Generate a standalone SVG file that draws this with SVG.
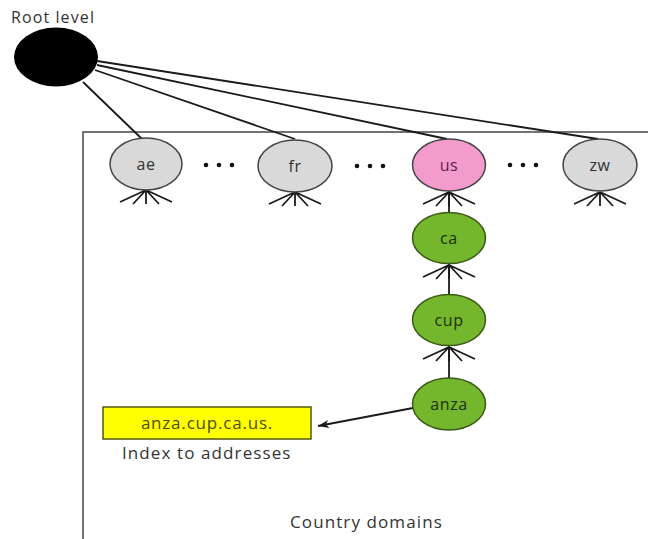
<svg xmlns="http://www.w3.org/2000/svg" width="649" height="539" viewBox="0 0 649 539">
  <style>
    text { font-family: "Open Sans", "Liberation Sans", sans-serif; }
    .lbl { font-size: 17px; fill: #333; letter-spacing: 1.1px; }
    .node-lbl { font-size: 16px; text-anchor: middle; letter-spacing: 0.6px; font-weight: 500; }
    .gray { fill: #d9d9d9; stroke: #444; stroke-width: 1.5; }
    .pink { fill: #f39bcd; stroke: #444; stroke-width: 1.5; }
    .green { fill: #74b62c; stroke: #3b5a14; stroke-width: 1.5; }
    .edge { stroke: #1a1a1a; stroke-width: 1.8; fill: none; }
    .foot { stroke: #1a1a1a; stroke-width: 1.8; fill: none; }
    .dots { fill: #111; }
  </style>
  <defs>
    <marker id="arr" markerWidth="12" markerHeight="10" refX="11" refY="5" orient="auto" markerUnits="userSpaceOnUse">
      <path d="M0,1 L11,5 L0,9 L3,5 Z" fill="#1a1a1a"/>
    </marker>
    <!-- crow's foot fan drawn below a node, apex at 0,0 -->
    <g id="fan">
      <path class="foot" d="M0,0 L-26,12 M0,0 L-13,14 M0,0 L0,14 M0,0 L13,14 M0,0 L26,12"/>
    </g>
  </defs>

  <!-- domain frame -->
  <path d="M83,539 L83,132 L648,132" fill="none" stroke="#444" stroke-width="1.5"/>

  <!-- connectors -->
  <g id="connectors">
    <line class="edge" x1="83" y1="82" x2="142" y2="139"/>
    <line class="edge" x1="95" y1="70" x2="295" y2="139"/>
    <line class="edge" x1="97" y1="65" x2="447" y2="139"/>
    <line class="edge" x1="97" y1="61" x2="598" y2="139"/>
    <line class="edge" x1="449" y1="191" x2="449" y2="212"/>
    <line class="edge" x1="449" y1="264" x2="449" y2="295"/>
    <line class="edge" x1="449" y1="346" x2="449" y2="378"/>
    <line class="edge" x1="413" y1="408" x2="318" y2="426" marker-end="url(#arr)"/>
    <use href="#fan" x="146" y="190"/>
    <use href="#fan" x="295" y="192"/>
    <use href="#fan" x="449" y="192"/>
    <use href="#fan" x="600" y="192"/>
    <use href="#fan" x="449" y="265"/>
    <use href="#fan" x="449" y="347"/>
  </g>

  <!-- root -->
  <g id="root">
    <text class="lbl" x="11" y="23" style="font-size:16px">Root level</text>
    <ellipse cx="56" cy="57" rx="42" ry="29.5" fill="#000"/>
  </g>

  <!-- top level domains -->
  <g id="node-ae">
    <ellipse class="gray" cx="146" cy="164" rx="36" ry="26"/>
    <text class="node-lbl" x="146" y="170" fill="#333">ae</text>
  </g>
  <g id="node-fr">
    <ellipse class="gray" cx="295" cy="166" rx="37" ry="26"/>
    <text class="node-lbl" x="295" y="172" fill="#333">fr</text>
  </g>
  <g id="node-us">
    <ellipse class="pink" cx="449" cy="165" rx="36.5" ry="26"/>
    <text class="node-lbl" x="449" y="171" fill="#5a2447">us</text>
  </g>
  <g id="node-zw">
    <ellipse class="gray" cx="600" cy="165" rx="37" ry="26"/>
    <text class="node-lbl" x="600" y="171" fill="#333">zw</text>
  </g>

  <!-- ellipsis dots -->
  <g id="dots" class="dots">
    <circle cx="206" cy="165" r="2.3"/><circle cx="219" cy="165" r="2.3"/><circle cx="232" cy="165" r="2.3"/>
    <circle cx="357" cy="166" r="2.3"/><circle cx="370" cy="166" r="2.3"/><circle cx="383" cy="166" r="2.3"/>
    <circle cx="510" cy="165" r="2.3"/><circle cx="523" cy="165" r="2.3"/><circle cx="536" cy="165" r="2.3"/>
  </g>

  <!-- subdomains -->
  <g id="node-ca">
    <ellipse class="green" cx="449" cy="238" rx="36.5" ry="25.5"/>
    <text class="node-lbl" x="449" y="244" fill="#1f3008">ca</text>
  </g>
  <g id="node-cup">
    <ellipse class="green" cx="449" cy="320" rx="36.5" ry="25.5"/>
    <text class="node-lbl" x="449" y="326" fill="#1f3008">cup</text>
  </g>
  <g id="node-anza">
    <ellipse class="green" cx="449" cy="404" rx="36.5" ry="26"/>
    <text class="node-lbl" x="449" y="410" fill="#1f3008">anza</text>
  </g>

  <!-- resolved name -->
  <g id="index-box">
    <rect x="103" y="407" width="208" height="32" fill="#ffff00" stroke="#55550f" stroke-width="1.5"/>
    <text x="207" y="429" font-size="17" text-anchor="middle" letter-spacing="0.8" font-weight="500" fill="#4d4d14">anza.cup.ca.us.</text>
    <text class="lbl" x="122" y="459">Index to addresses</text>
  </g>

  <text class="lbl" x="290" y="528">Country domains</text>
</svg>
